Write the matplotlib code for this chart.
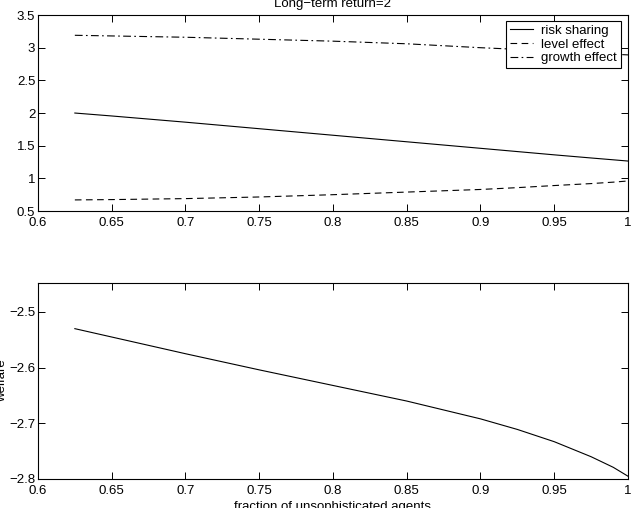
import matplotlib
matplotlib.use("Agg")
import matplotlib.pyplot as plt

plt.rcParams['font.family'] = ['Liberation Sans', 'DejaVu Sans']
plt.rcParams['font.size'] = 9.5

# fraction of unsophisticated agents
frac = [0.625, 0.65, 0.7, 0.75, 0.8, 0.85, 0.9, 0.925, 0.95, 0.975, 0.99, 1.0]

# top panel: decomposition
risk_sharing = [2.00, 1.955, 1.86, 1.76, 1.66, 1.56, 1.46, 1.41, 1.36, 1.312, 1.284, 1.265]
level_effect = [0.67, 0.675, 0.69, 0.715, 0.75, 0.79, 0.83, 0.858, 0.89, 0.92, 0.942, 0.96]
growth_effect = [3.19, 3.18, 3.16, 3.13, 3.10, 3.06, 3.00, 2.975, 2.95, 2.92, 2.90, 2.89]

# bottom panel
welfare = [-2.530, -2.545, -2.575, -2.604, -2.632, -2.660, -2.692, -2.711,
           -2.733, -2.760, -2.779, -2.795]

xticks = [0.6, 0.65, 0.7, 0.75, 0.8, 0.85, 0.9, 0.95, 1]
xticklabels = ['0.6', '0.65', '0.7', '0.75', '0.8', '0.85', '0.9', '0.95', '1']

fig = plt.figure(figsize=(6.36, 5.08), dpi=100)
ax1 = fig.add_axes([0.0597, 0.5846, 0.9277, 0.3858])
ax2 = fig.add_axes([0.0597, 0.0571, 0.9277, 0.3858])

lw = 0.8
ax1.plot(frac, risk_sharing, color='k', lw=lw, label='risk sharing')
ax1.plot(frac, level_effect, color='k', lw=lw, dashes=(6, 4), label='level effect')
ax1.plot(frac, growth_effect, color='k', lw=lw, dashes=(7, 3, 1.5, 3), label='growth effect')
ax1.set_ylim(0.5, 3.5)
ax1.set_yticks([0.5, 1, 1.5, 2, 2.5, 3, 3.5])
ax1.set_yticklabels(['0.5', '1', '1.5', '2', '2.5', '3', '3.5'])
ax1.set_title('Long\u2212term return=2', fontsize=9.5, pad=6)
leg = ax1.legend(loc='upper right', bbox_to_anchor=(0.988, 0.97), frameon=True,
                 fancybox=False, edgecolor='k', framealpha=1, handlelength=1.8,
                 borderpad=0.3, labelspacing=0.1, handletextpad=0.6, borderaxespad=0)
leg.get_frame().set_linewidth(0.8)

ax2.plot(frac, welfare, color='k', lw=lw)
ax2.set_ylim(-2.8, -2.448)
ax2.set_yticks([-2.8, -2.7, -2.6, -2.5])
ax2.set_yticklabels(['\u22122.8', '\u22122.7', '\u22122.6', '\u22122.5'])
ax2.set_xlabel('fraction of unsophisticated agents', labelpad=3)
ax2.set_ylabel('welfare', labelpad=1)

for ax in (ax1, ax2):
    ax.set_xlim(0.6, 1)
    ax.set_xticks(xticks)
    ax.set_xticklabels(xticklabels)
    ax.tick_params(axis='x', direction='in', top=True, length=5, width=0.7, pad=4)
    ax.tick_params(axis='y', direction='in', right=True, length=5, width=0.7, pad=2)
    for s in ax.spines.values():
        s.set_linewidth(0.8)

fig.savefig('out.png', dpi=100)
